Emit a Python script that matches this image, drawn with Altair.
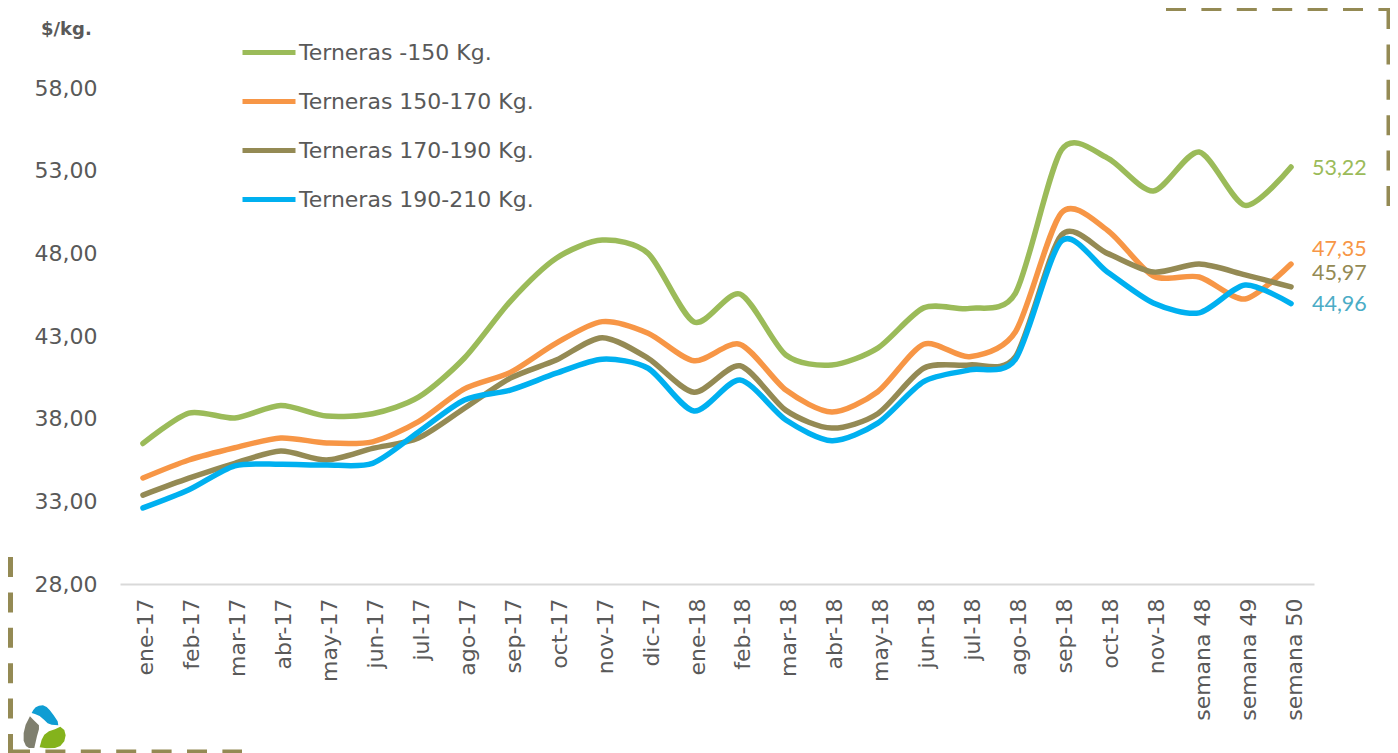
import altair as alt
import pandas as pd

months = ["ene-17","feb-17","mar-17","abr-17","may-17","jun-17","jul-17","ago-17","sep-17","oct-17","nov-17","dic-17",
          "ene-18","feb-18","mar-18","abr-18","may-18","jun-18","jul-18","ago-18","sep-18","oct-18","nov-18",
          "semana 48","semana 49","semana 50"]
green = [36.5,38.34,38.04,38.8,38.16,38.3,39.3,41.67,45.1,47.7,48.8,48.0,43.85,45.54,41.85,41.25,42.27,44.7,44.67,45.6,54.25,53.77,51.77,54.13,50.9,53.22]
orange = [34.41,35.5,36.24,36.83,36.53,36.6,37.82,39.8,40.8,42.57,43.87,43.17,41.5,42.5,39.73,38.4,39.63,42.5,41.75,43.26,50.45,49.4,46.63,46.57,45.24,47.35]
khaki = [33.38,34.4,35.3,36.04,35.5,36.2,36.83,38.63,40.45,41.55,42.9,41.65,39.6,41.2,38.5,37.43,38.3,41.05,41.25,41.75,49.1,48.0,46.87,47.35,46.7,45.97]
blue = [32.6,33.7,35.15,35.24,35.2,35.3,37.2,39.13,39.73,40.75,41.6,41.05,38.46,40.34,37.92,36.67,37.73,40.24,40.95,41.6,48.75,46.87,45.0,44.4,46.08,44.96]
names = ["Terneras -150 Kg.","Terneras 150-170 Kg.","Terneras 170-190 Kg.","Terneras 190-210 Kg."]
line_colors = ["#9BBB59","#F79646","#948A54","#00B0F0"]
label_colors = ["#9BBB59","#F79646","#948A54","#4BACC6"]
label_texts = ["53,22","47,35","45,97","44,96"]
label_dy = [1.5,-14,-12.5,1.5]
y_ticks = [28,33,38,43,48,53,58]
FONT = "DejaVu Sans"
LABEL_FONT = "Lato"
TXT = "#595959"

df = pd.DataFrame([
    {"mes": m, "valor": v, "serie": n, "orden": i}
    for n, vals in zip(names, [green, orange, khaki, blue])
    for i, (m, v) in enumerate(zip(months, vals))
])

x_enc = alt.X("mes:N", sort=months, title=None,
              scale=alt.Scale(type="point", padding=0.5),
              axis=alt.Axis(domain=True, domainColor="#D9D9D9", domainWidth=2, ticks=False, grid=False,
                            labelAngle=270, labelAlign="right", labelBaseline="middle", labelPadding=14,
                            labelOffset=3, labelFontSize=22, labelColor=TXT, labelFont=FONT, labelOverlap=False))
y_enc = alt.Y("valor:Q", title=None, scale=alt.Scale(domain=[28,58], nice=False, zero=False),
              axis=alt.Axis(values=y_ticks, domain=False, ticks=False, grid=False, labelPadding=23,
                            labelExpr="replace(format(datum.value,'.2f'),'.',',')",
                            labelFontSize=22, labelColor=TXT, labelFont=FONT))

lines = alt.Chart(df).mark_line(interpolate="cardinal", tension=0.2, strokeWidth=5.5, strokeCap="round", strokeJoin="round").encode(
    x=x_enc, y=y_enc, order="orden:Q",
    color=alt.Color("serie:N", sort=names, scale=alt.Scale(domain=names, range=line_colors),
                    legend=alt.Legend(orient="none", legendX=120, legendY=-60, title=None, symbolType="stroke",
                                      symbolSize=2809, symbolStrokeWidth=5, clipHeight=49, rowPadding=0,
                                      labelFontSize=22, labelFont=FONT, labelColor=TXT, labelOffset=1,
                                      labelLimit=400, columns=1)))

layers = [lines]
for n, vals, c, t, dy in zip(names, [green, orange, khaki, blue], label_colors, label_texts, label_dy):
    d = pd.DataFrame({"mes": [months[-1]], "valor": [vals[-1]], "t": [t]})
    layers.append(alt.Chart(d).mark_text(align="left", baseline="middle", dx=21, dy=dy, fontSize=21.5, font=LABEL_FONT, color=c)
                  .encode(x=alt.X("mes:N", sort=months, title=None), y=alt.Y("valor:Q", title=None), text="t:N"))

one = pd.DataFrame({"a": [0]})
OX, OY = 120, 88   # page position of the plot origin

def dash(x1, x2, y1, y2, w=5):
    return alt.Chart(one).mark_rule(color="#948A54", strokeWidth=w, strokeDash=[20, 15.4]).encode(
        x=alt.value(x1 - OX), x2=alt.value(x2 - OX), y=alt.value(y1 - OY), y2=alt.value(y2 - OY))

layers += [
    dash(10.5, 10.5, 557, 753),
    dash(10, 242, 752, 752),
    dash(1166, 1392, 9.5, 9.5, 3),
    dash(1389, 1389, 9, 207),
]

layers.append(alt.Chart(one).mark_text(text="$/kg.", fontWeight="bold", fontSize=18, font=FONT, color=TXT, align="left", baseline="middle")
              .encode(x=alt.value(41 - OX), y=alt.value(30 - OY)))

def logo_path(pts, cx=88, cy=85, k=150):
    s = "M" + " L".join(f"{(x-cx)/k:.3f},{(y-cy)/k:.3f}" for x, y in pts) + " Z"
    return s

logo_blue = [(50,45),(55,36),(62,28),(72,23),(84,22),(95,27),(104,36),(116,52),(128,70),(130,82),(110,80),(98,76),(88,66),(74,54),(60,48)]
logo_grey = [(45,55),(55,65),(72,82),(72,94),(66,115),(58,150),(42,150),(33,144),(26,128),(26,105),(32,80)]
logo_green = [(74,148),(80,125),(88,110),(102,100),(120,94),(136,86),(148,96),(152,112),(148,130),(136,144),(120,150),(95,151)]
for pts, col in [(logo_blue,"#0F9DD3"),(logo_grey,"#7F7F6E"),(logo_green,"#84B31C")]:
    layers.append(alt.Chart(one).mark_point(shape=logo_path(pts), size=10000, filled=True, color=col, opacity=1, strokeWidth=0)
                  .encode(x=alt.value(44.3 - OX), y=alt.value(726.3 - OY)))

chart = alt.layer(*layers).properties(
    width=1194, height=496,
    autosize=alt.AutoSizeParams(type="none"),
    padding={"left": 112, "top": 80, "right": 76, "bottom": 169},
    background="white",
).configure_view(stroke=None)

chart.save("out.html", embed_options={"renderer": "svg", "actions": False})
